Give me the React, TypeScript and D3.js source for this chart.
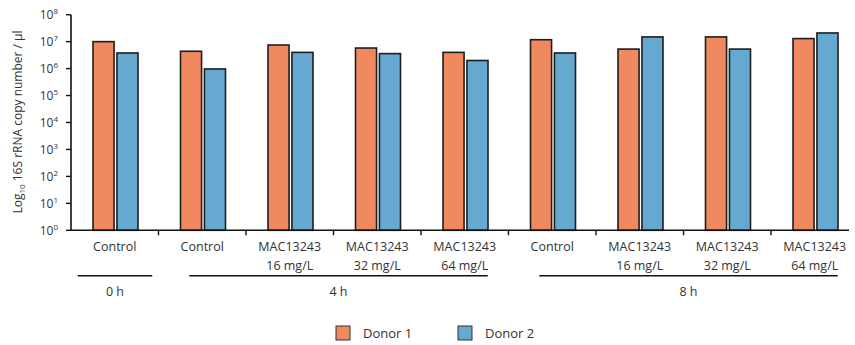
import React from "react";
import * as d3 from "d3";

const width = 855;
const height = 345;

// categories along the x axis (two-line labels split by \n)
const categories = [
  "Control",
  "Control",
  "MAC13243\n16 mg/L",
  "MAC13243\n32 mg/L",
  "MAC13243\n64 mg/L",
  "Control",
  "MAC13243\n16 mg/L",
  "MAC13243\n32 mg/L",
  "MAC13243\n64 mg/L",
];
const donors = ["Donor 1", "Donor 2"];
const donor1 = [1.0e7, 4.4e6, 7.5e6, 5.8e6, 4.0e6, 1.18e7, 5.3e6, 1.5e7, 1.3e7];
const donor2 = [3.8e6, 9.7e5, 4.0e6, 3.6e6, 2.0e6, 3.8e6, 1.5e7, 5.3e6, 2.1e7];
const yTickExp = [0, 1, 2, 3, 4, 5, 6, 7, 8];
// time groups: label, first category index, last category index
const timeGroups: [string, number, number][] = [
  ["0 h", 0, 0],
  ["4 h", 1, 4],
  ["8 h", 5, 8],
];

const colors = ["#F0895F", "#65A9D1"];
const font = "'Open Sans', sans-serif";

export default function App() {
  const x0 = 71;
  const axisEnd = 849;
  const y = d3.scaleLog().domain([1, 1e8]).range([230.3, 14.7]);
  const x = d3.scaleBand<number>()
    .domain(categories.map((_, i) => i))
    .range([x0, x0 + 87.5 * categories.length]);
  const xs = d3.scaleBand<string>().domain(donors).range([22, 67]).paddingInner(0.12);
  const series = [donor1, donor2];
  const base = y(1);

  const center = (i: number) => (x(i) as number) + x.bandwidth() / 2;

  return (
    <svg width={width} height={height} style={{ position: "absolute", left: 0, top: 0 }} fontFamily={font}>
      {/* bars */}
      {series.map((vals, s) =>
        vals.map((v, i) => (
          <rect
            key={s + "-" + i}
            x={(x(i) as number) + (xs(donors[s]) as number)}
            y={y(v)}
            width={xs.bandwidth()}
            height={base - y(v)}
            fill={colors[s]}
            stroke="#1e1e1e"
            strokeWidth={1.6}
          />
        ))
      )}

      {/* y axis */}
      <line x1={x0} x2={x0} y1={y(1e8)} y2={base} stroke="#111" strokeWidth={1.6} />
      {yTickExp.map((e) => (
        <g key={e} transform={`translate(0,${y(Math.pow(10, e))})`}>
          <line x1={x0 - 5} x2={x0} stroke="#111" strokeWidth={1.4} />
          <text x={58} y={4.5} textAnchor="end" fontSize={12} fill="#333">
            10<tspan dy={-5} fontSize={8}>{e}</tspan>
          </text>
        </g>
      ))}

      {/* x axis */}
      <line x1={x0} x2={axisEnd} y1={base} y2={base} stroke="#111" strokeWidth={1.6} />
      {categories.map((c, i) => (
        <g key={i}>
          {i > 0 && (
            <line x1={x(i)} x2={x(i)} y1={base} y2={base + 5} stroke="#111" strokeWidth={1.4} />
          )}
          {c.split("\n").map((line, k) => (
            <text key={k} x={center(i)} y={250.5 + k * 19} textAnchor="middle" fontSize={12.5} fill="#333">
              {line}
            </text>
          ))}
        </g>
      ))}

      {/* time group brackets */}
      {timeGroups.map(([label, a, b]) => {
        const x1 = a === b ? center(a) - 37 : center(a) - 13;
        const x2 = a === b ? center(b) + 37.5 : center(b) + 23;
        return (
          <g key={label}>
            <line x1={x1} x2={x2} y1={275.7} y2={275.7} stroke="#111" strokeWidth={1.5} />
            <text x={(x1 + x2) / 2} y={296} textAnchor="middle" fontSize={12.5} fill="#333">
              {label}
            </text>
          </g>
        );
      })}

      {/* y axis title */}
      <text
        transform={`translate(22,${122}) rotate(-90)`}
        textAnchor="middle"
        fontSize={12}
        fill="#333"
      >
        Log<tspan fontSize={8} dy={3}>10</tspan>
        <tspan dy={-3}> 16S rRNA copy number / µl</tspan>
      </text>

      {/* legend */}
      {donors.map((d, s) => (
        <g key={d} transform={`translate(${336 + s * 122},326)`}>
          <rect width={14} height={14} fill={colors[s]} stroke="#333" strokeWidth={1} />
          <text x={27} y={12} fontSize={13} fill="#333">
            {d}
          </text>
        </g>
      ))}
    </svg>
  );
}
